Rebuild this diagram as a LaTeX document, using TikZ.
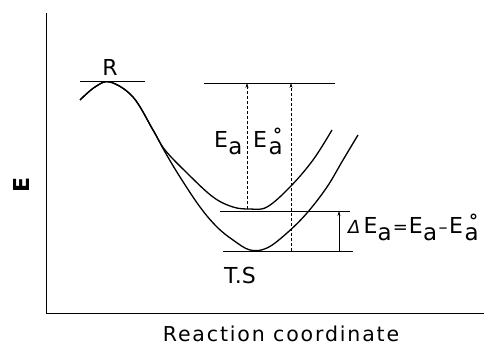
\documentclass[tikz,border=0pt]{standalone}
\usepackage{fontspec}
\setmainfont{DejaVu Sans}
\usetikzlibrary{arrows.meta}
\newcommand{\suba}{\raisebox{-7pt}{\fontsize{23}{23}\selectfont a}}
\newcommand{\subao}{\raisebox{-7pt}{\fontsize{23}{23}\selectfont\rlap{\kern4.6pt\raisebox{13pt}{\fontsize{18}{18}\selectfont\textbf{°}}}a}}
\newcommand{\Ea}{E\kern0.3pt\suba}
\newcommand{\Eo}{E\kern1.5pt\subao}
\begin{document}
\begin{tikzpicture}[x=1pt,y=-1pt,
  lbl/.style={inner sep=0pt,font=\fontsize{22}{24}\selectfont},
  curve/.style={line width=1.3pt},
  level/.style={line width=1pt},
  darrow/.style={densely dashed,line width=0.5pt,-{Stealth[length=5pt,width=3pt]}},
  sarrow/.style={line width=0.5pt,-{Stealth[length=5pt,width=3pt]}},
  axis/.style={line width=0.8pt}]
\useasboundingbox (0,0) rectangle (484,345);
% axes
\coordinate (ytop) at (46,13);
\coordinate (origin) at (46,313);
\coordinate (xend) at (484,313);
\draw[axis] (ytop) -- (origin) -- (xend);
\node[lbl,rotate=90,font=\fontsize{22}{24}\selectfont\bfseries] (elbl) at (21,185) {E};
\node[lbl,anchor=base,font=\fontsize{20.5}{24}\selectfont\addfontfeatures{LetterSpace=9}] (xlbl) at (281,341) {Reaction coordinate};
% curves
\draw[curve] plot[smooth,tension=0.6] coordinates {(80,100) (95,87) (110,82) (133,97) (153,130) (165,150) (187,173) (213,197) (233,207) (250,209) (267,207) (290,187) (313,160) (332,130)};
\draw[curve] plot[smooth,tension=0.6] coordinates {(80,100) (95,87) (110,82) (133,97) (153,130) (165,152) (180,177) (200,207) (217,227) (233,240) (250,250) (267,248) (287,233) (307,213) (327,187) (343,160) (358,135)};
% level lines
\coordinate (r1) at (80,81); \coordinate (r2) at (145,81);
\draw[level] (r1) -- (r2);
\coordinate (t1) at (204,83); \coordinate (t2) at (335,83);
\draw[level] (t1) -- (t2);
\coordinate (m1) at (220,211); \coordinate (m2) at (350,211);
\draw[level] (m1) -- (m2);
\coordinate (b1) at (223,251); \coordinate (b2) at (353,251);
\draw[level] (b1) -- (b2);
% arrows
\coordinate (ea1) at (247,209); \coordinate (ea2) at (247,83);
\draw[darrow] (ea1) -- (ea2);
\coordinate (eo1) at (291,251); \coordinate (eo2) at (291,83);
\draw[darrow] (eo1) -- (eo2);
\coordinate (d1) at (339,251); \coordinate (d2) at (339,211);
\draw[sarrow] (d1) -- (d2);
% labels
\node[lbl] (rlbl) at (110,67) {R};
\node[lbl] (tslbl) at (240,275) {T.S};
\node[lbl,anchor=base west] (ealbl) at (214,147) {\Ea};
\node[lbl,anchor=base west] (eolbl) at (253,147) {\Eo};
\node[lbl,anchor=base west] (dlbl) at (348,233) {{\fontsize{18}{18}\selectfont\textit{Δ}}\kern3pt\Ea\kern1pt{\fontsize{18}{18}\selectfont=}\kern1pt\Ea\kern1.5pt{\fontsize{18}{18}\selectfont\textendash}\kern1.5pt\Eo};
\end{tikzpicture}
\end{document}
